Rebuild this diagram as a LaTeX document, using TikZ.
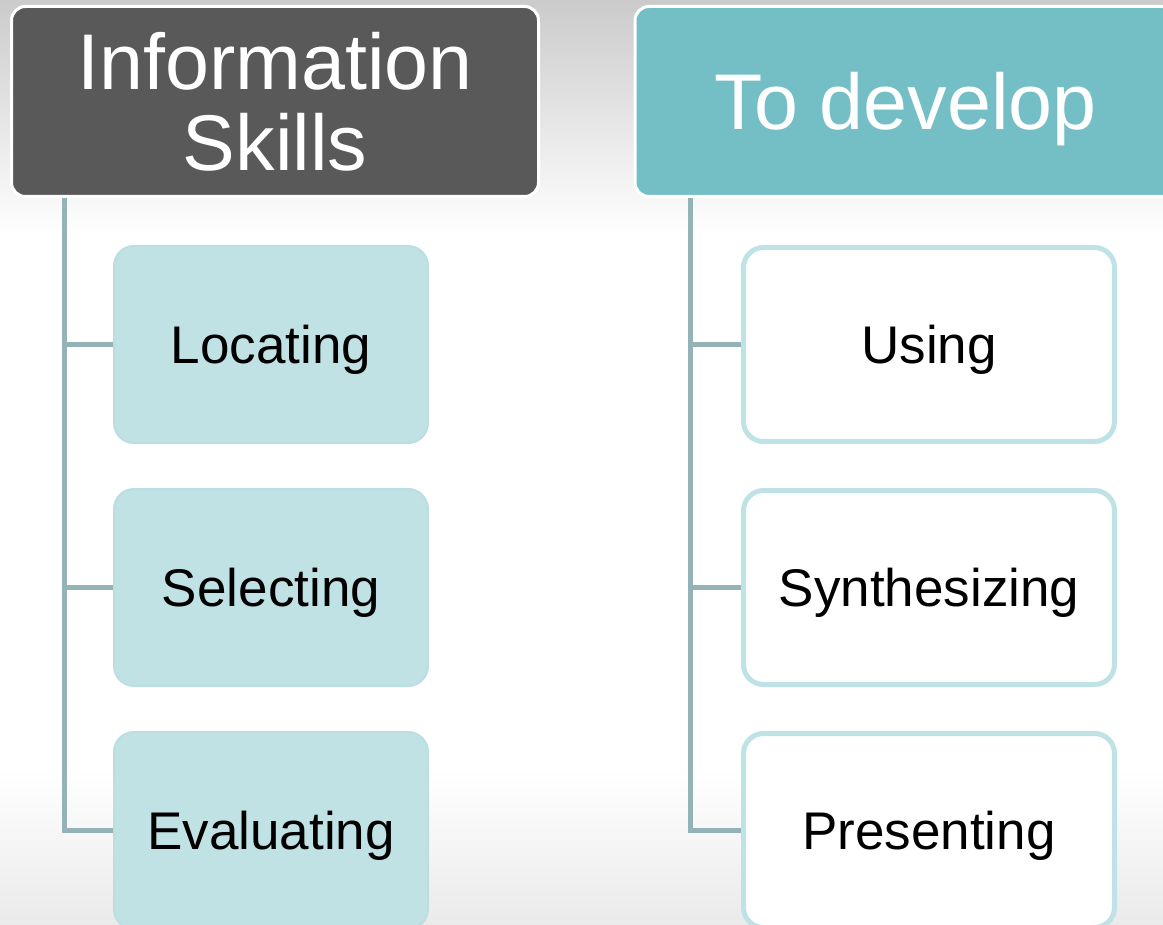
\documentclass[tikz,border=0pt]{standalone}
\usepackage{fontspec}
\setmainfont{Liberation Sans}
\definecolor{hdrdark}{HTML}{595959}
\definecolor{hdrteal}{HTML}{73BFC5}
\definecolor{kidfill}{HTML}{C0E2E4}
\definecolor{kidedge}{HTML}{BADEE1}
\definecolor{wedge}{HTML}{BEE2E5}
\definecolor{connc}{HTML}{93B3B7}
\definecolor{bgtop}{HTML}{CBCBCB}
\definecolor{bgbot}{HTML}{EAEAEA}
\pgfdeclarelayer{bglayer}
\pgfdeclarelayer{linelayer}
\pgfsetlayers{bglayer,linelayer,main}
\tikzset{
  hdrbox/.style={draw=white, line width=3pt, rounded corners=14pt, text=white,
    minimum height=190pt, align=center, inner sep=0pt,
    font=\fontsize{79}{81}\selectfont},
  kidL/.style={fill=kidfill, draw=kidedge, line width=2pt, rounded corners=20pt,
    minimum width=314pt, minimum height=197pt, inner sep=0pt,
    text height=38pt, text depth=0pt, font=\fontsize{53}{60}\selectfont},
  kidR/.style={fill=white, draw=wedge, line width=5pt, rounded corners=20pt,
    minimum width=371pt, minimum height=194pt, inner sep=0pt,
    text height=38pt, text depth=0pt, font=\fontsize{53}{60}\selectfont},
  conn/.style={draw=connc, line width=5pt}
}
\begin{document}
\begin{tikzpicture}[x=1pt,y=-1pt]
\useasboundingbox (0,0) rectangle (1163,925);
\clip (0,0) rectangle (1163,925);
% background
\begin{pgfonlayer}{bglayer}
\fill[white] (0,0) rectangle (1163,925);
\shade[top color=bgtop, bottom color=white] (0,0) rectangle (1163,235);
\shade[top color=white, bottom color=bgbot] (0,770) rectangle (1163,925);
\end{pgfonlayer}
% trunk coordinates
\coordinate (lv) at (64,196);
\coordinate (rv) at (690.5,196);
% children
\node[kidL] (loc) at (271,344.5) {Locating};
\node[kidL] (sel) at (271,587.5) {Selecting};
\node[kidL] (eva) at (271,830.5) {Evaluating};
\node[kidR] (use) at (929,344.5) {Using};
\node[kidR] (syn) at (929,587.5) {Synthesizing};
\node[kidR] (pre) at (929,830.5) {Presenting};
% headers
\node[hdrbox, fill=hdrdark, minimum width=527pt] (hl) at (275,101.5) {Information\\Skills};
\node[hdrbox, fill=hdrteal, minimum width=541pt, text height=57pt, text depth=0pt] (hr) at (905.5,101.5) {To develop};
% connectors
\begin{pgfonlayer}{linelayer}
\draw[conn] (lv) |- (eva.west);
\draw[conn] (lv |- loc.west) -- (loc.west);
\draw[conn] (lv |- sel.west) -- (sel.west);
\draw[conn] (rv) |- (pre.west);
\draw[conn] (rv |- use.west) -- (use.west);
\draw[conn] (rv |- syn.west) -- (syn.west);
\end{pgfonlayer}
\end{tikzpicture}
\end{document}
